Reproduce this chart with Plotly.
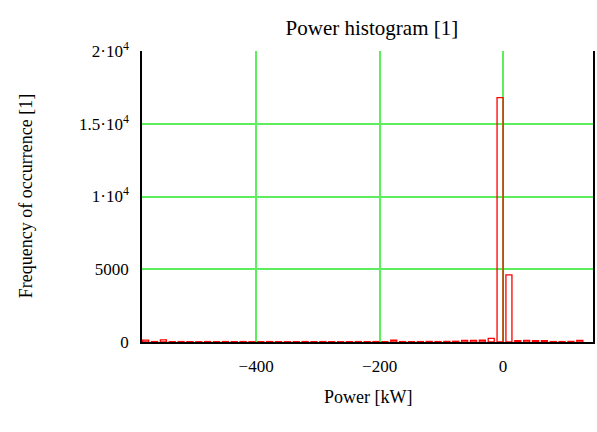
import plotly.graph_objects as go

# Histogram data: 50 intervals, bin midpoints from first_center with spacing bin_step (kW)
first_center = -578.9
bin_step = 14.35
counts = [
    130, 30, 140, 25, 30, 25, 20, 30, 25, 30,
    25, 30, 20, 25, 30, 25, 20, 25, 30, 25,
    30, 25, 20, 25, 30, 25, 30, 25, 120, 30,
    25, 30, 40, 30, 40, 50, 110, 110, 120, 250,
    16800, 4620, 100, 110, 100, 90, 30, 30, 40, 110,
]
centers = [first_center + bin_step * i for i in range(len(counts))]

y_tickvals = [0, 5000, 10000, 15000, 20000]
y_ticktext = ["0", "5000", "1·10<sup>4</sup>", "1.5·10<sup>4</sup>", "2·10<sup>4</sup>"]
x_tickvals = [-400, -200, 0]
x_ticktext = ["−400", "−200", "0"]

font = "Liberation Serif"
grid = "#5cee5c"

fig = go.Figure()
fig.add_trace(go.Bar(
    x=centers, y=counts, width=bin_step * 0.68,
    marker=dict(color="rgba(255,255,255,0)", line=dict(color="#ff0000", width=1.3)),
))

fig.update_layout(
    width=597, height=432,
    margin=dict(l=142, r=4, t=51, b=90, autoexpand=False),
    paper_bgcolor="white", plot_bgcolor="white",
    showlegend=False,
    font=dict(family=font, size=17, color="black"),
    title=dict(text="Power histogram [1]", x=0.623, xanchor="center", y=0.935, yanchor="middle",
               font=dict(family=font, size=21, color="black")),
    annotations=[
        dict(text="Power [kW]", xref="paper", yref="paper", x=0.5, y=-0.19,
             xanchor="center", yanchor="middle", showarrow=False,
             font=dict(family=font, size=18, color="black")),
        dict(text="Frequency of occurrence [1]", xref="paper", yref="paper", x=-0.258, y=0.5,
             xanchor="center", yanchor="middle", textangle=-90, showarrow=False,
             font=dict(family=font, size=18, color="black")),
    ],
)
fig.update_xaxes(
    range=[-584.8, 145.6], tickvals=x_tickvals, ticktext=x_ticktext,
    showgrid=True, gridcolor=grid, gridwidth=1.5, zeroline=False,
    showline=True, linecolor="black", linewidth=1.5, mirror=False,
    ticks="outside", ticklen=8, tickcolor="rgba(0,0,0,0)",
    tickfont=dict(family=font, size=17, color="black"), automargin=False,
)
fig.update_yaxes(
    range=[0, 20000], tickvals=y_tickvals, ticktext=y_ticktext,
    showgrid=True, gridcolor=grid, gridwidth=1.5, zeroline=False,
    showline=True, linecolor="black", linewidth=1.5, mirror=True,
    ticks="outside", ticklen=8, tickcolor="rgba(0,0,0,0)",
    tickfont=dict(family=font, size=17, color="black"), automargin=False,
)

fig.write_html(
    "out.html",
    config={"displayModeBar": False},
    post_script="document.body.style.margin='0px';document.body.style.overflow='hidden';",
)
